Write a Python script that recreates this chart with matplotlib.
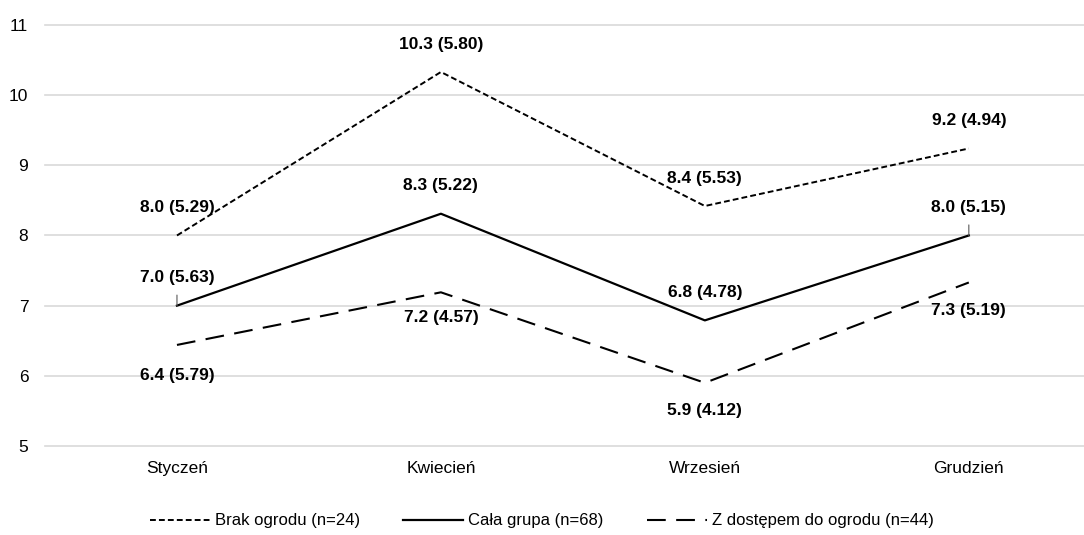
import matplotlib
matplotlib.use("Agg")
import matplotlib.pyplot as plt

months = ["Styczeń", "Kwiecień", "Wrzesień", "Grudzień"]

# means and standard deviations per group
brak_mean = [8.00, 10.33, 8.42, 9.24]
brak_sd = [5.29, 5.80, 5.53, 4.94]
cala_mean = [7.00, 8.31, 6.79, 8.00]
cala_sd = [5.63, 5.22, 4.78, 5.15]
ogrod_mean = [6.44, 7.19, 5.90, 7.33]
ogrod_sd = [5.79, 4.57, 4.12, 5.19]

series_names = ["Brak ogrodu (n=24)", "Cała grupa (n=68)", "Z dostępem do ogrodu (n=44)"]

plt.rcParams["font.family"] = ["Liberation Sans", "DejaVu Sans"]

fig = plt.figure(figsize=(10.84, 5.35), dpi=100)
ax = fig.add_axes([0.0415, 0.1664, 0.974, 0.7869])

x = range(len(months))
ax.plot(x, brak_mean, color="black", lw=1.4, dashes=(3, 1.6), label=series_names[0])
ax.plot(x, cala_mean, color="black", lw=1.6, label=series_names[1])
ax.plot(x, ogrod_mean, color="black", lw=1.5, dashes=(9, 5), label=series_names[2])

label_kw = dict(ha="center", va="center", fontsize=12.5, fontweight="bold",
                textcoords="offset points")

for i, (m, s) in enumerate(zip(brak_mean, brak_sd)):
    ax.annotate(f"{m:.1f} ({s:.2f})", (i, m), xytext=(0, 20), **label_kw)

# whole-group labels sit above; first and last get a short leader line
for i, (m, s) in enumerate(zip(cala_mean, cala_sd)):
    extra = {}
    if i in (0, len(months) - 1):
        extra["arrowprops"] = dict(arrowstyle="-", color="#595959", lw=0.8,
                                   shrinkA=5, shrinkB=0)
    ax.annotate(f"{m:.1f} ({s:.2f})", (i, m), xytext=(0, 20), **label_kw, **extra)

ogrod_off = [-22, -18, -20, -20]
for i, (m, s) in enumerate(zip(ogrod_mean, ogrod_sd)):
    ax.annotate(f"{m:.1f} ({s:.2f})", (i, m), xytext=(0, ogrod_off[i]), **label_kw)

ax.set_xlim(-0.5, 3.5)
ax.set_ylim(5, 11)
ax.set_yticks(range(5, 12))
ax.set_xticks(list(x))
ax.set_xticklabels(months)
ax.tick_params(axis="both", length=0, labelsize=12.5, colors="black")
ax.tick_params(axis="x", pad=11)
ax.tick_params(axis="y", pad=12)
ax.grid(axis="y", color="#d9d9d9", lw=1.2)
for gl in ax.get_ygridlines():
    gl.set_clip_on(False)
ax.set_axisbelow(True)
for sp in ax.spines.values():
    sp.set_visible(False)

fig.legend(loc="center", bbox_to_anchor=(0.5, 1 - 521 / 535), ncol=3, frameon=False,
           fontsize=12, handlelength=3.6, handletextpad=0.3, columnspacing=2.6)

fig.savefig("out.png", dpi=100)
